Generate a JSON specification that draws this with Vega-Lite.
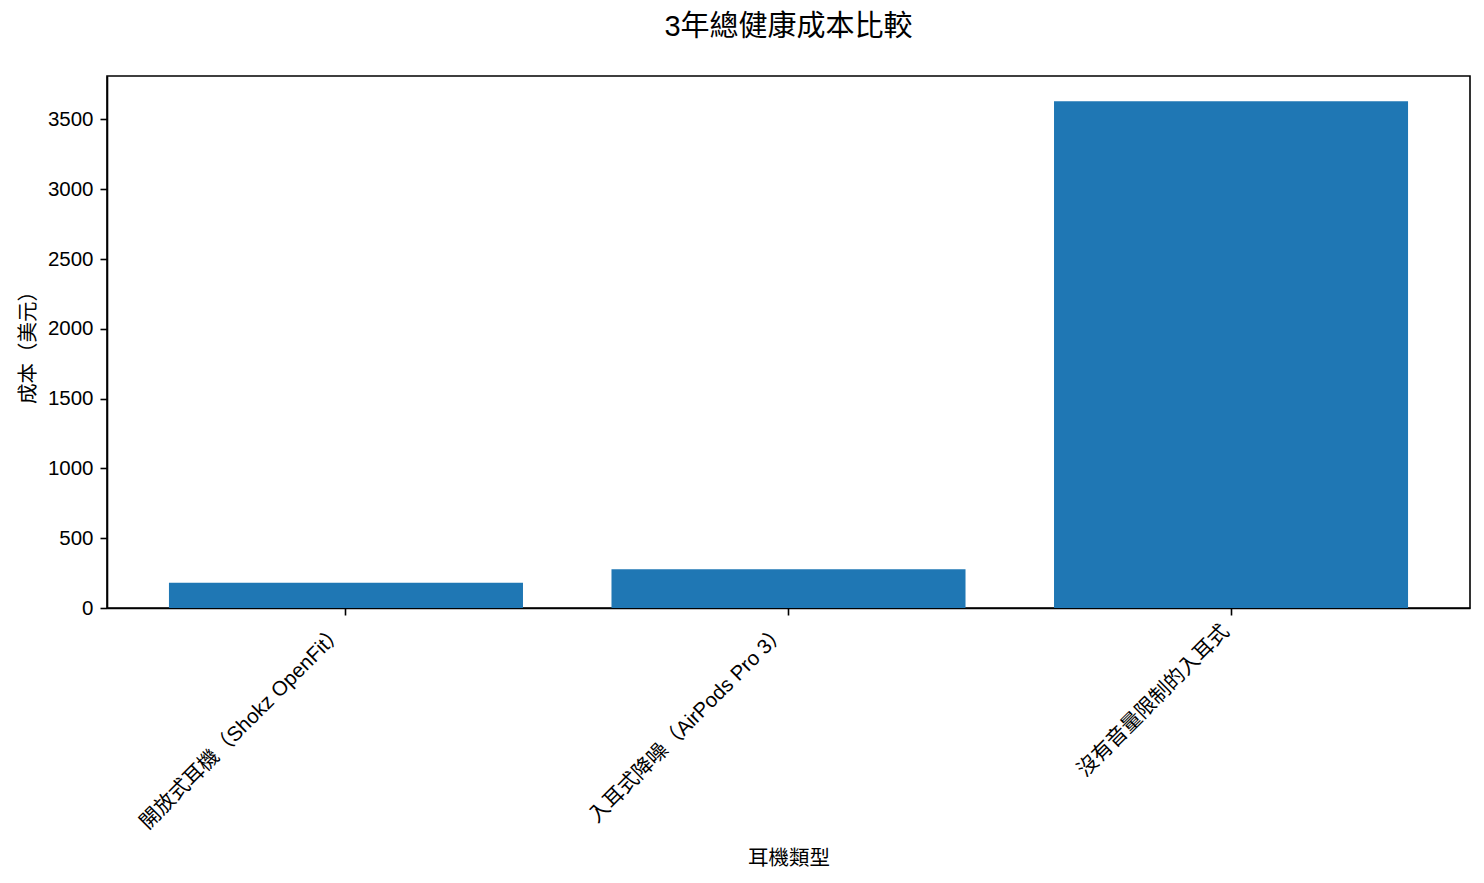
{
  "$schema": "https://vega.github.io/schema/vega-lite/v6.json",
  "width": 1363,
  "height": 532,
  "autosize": {"type": "none"},
  "padding": {"left": 107, "top": 76, "right": 14, "bottom": 275},
  "background": "white",
  "title": {
    "text": "3年總健康成本比較",
    "fontSize": 29,
    "fontWeight": "normal",
    "font": "Liberation Sans, Noto Sans CJK TC",
    "color": "black",
    "anchor": "middle",
    "offset": 34
  },
  "data": {
    "values": [
      {"type": "開放式耳機（Shokz OpenFit）", "cost": 180},
      {"type": "入耳式降噪（AirPods Pro 3）", "cost": 278},
      {"type": "沒有音量限制的入耳式", "cost": 3630}
    ]
  },
  "mark": {"type": "bar", "color": "#1f77b4"},
  "encoding": {
    "x": {
      "field": "type",
      "type": "nominal",
      "sort": null,
      "title": "耳機類型",
      "scale": {"paddingInner": 0.2, "paddingOuter": 0.14},
      "axis": {
        "labelAngle": -45,
        "labelAlign": "right",
        "labelBaseline": "top",
        "labelOffset": -12,
        "labelPadding": 6,
        "tickSize": 7,
        "titlePadding": 40
      }
    },
    "y": {
      "field": "cost",
      "type": "quantitative",
      "title": "成本（美元）",
      "scale": {"domain": [0, 3811], "nice": false},
      "axis": {
        "values": [0, 500, 1000, 1500, 2000, 2500, 3000, 3500],
        "format": "d",
        "tickSize": 7,
        "labelPadding": 7,
        "titlePadding": 9
      }
    }
  },
  "config": {
    "font": "Liberation Sans, Noto Sans CJK TC",
    "view": {"stroke": "black", "strokeWidth": 1.6},
    "axis": {
      "grid": false,
      "domainColor": "black",
      "domainWidth": 1.6,
      "tickColor": "black",
      "tickWidth": 1.6,
      "labelColor": "black",
      "labelFontSize": 20.5,
      "labelFont": "Liberation Sans, Noto Sans CJK TC",
      "labelOverlap": false,
      "labelLimit": 0,
      "titleColor": "black",
      "titleFontSize": 20.5,
      "titleFontWeight": "normal",
      "titleFont": "Liberation Sans, Noto Sans CJK TC"
    }
  }
}
